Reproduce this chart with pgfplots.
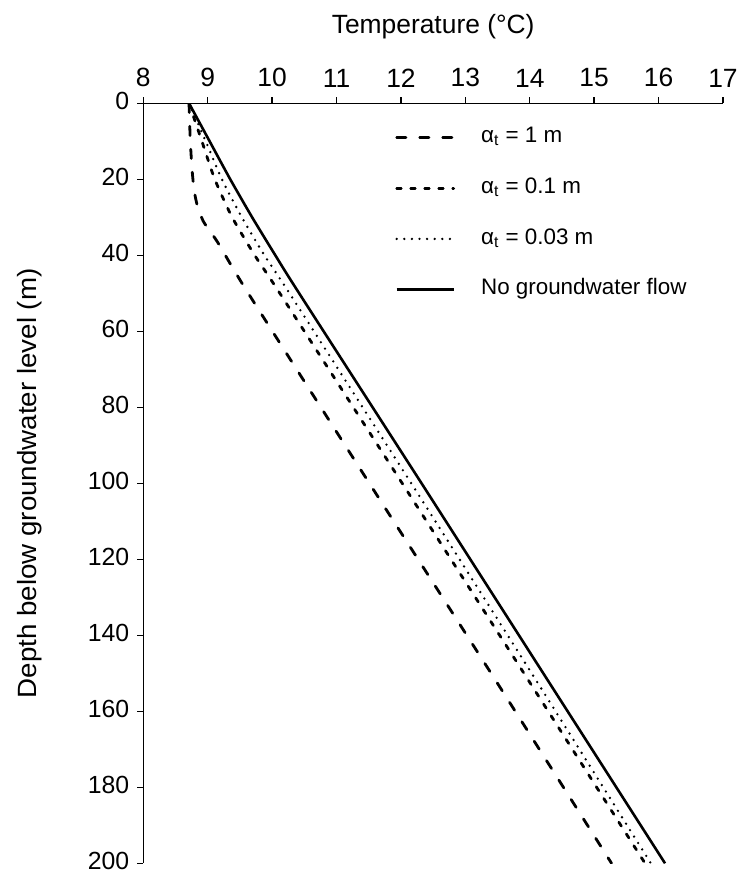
\documentclass[border=0pt]{standalone}
\usepackage{fontspec}
\setmainfont{Liberation Sans}
\usepackage{graphicx}
\usepackage{pgfplots}
\pgfplotsset{compat=1.18}

\begin{document}
\begin{tikzpicture}[font=\fontsize{13.2}{15.8}\selectfont]
\begin{axis}[
  scale only axis, width=289.85pt, height=380pt,
  xmin=8, xmax=17, ymin=0, ymax=200, y dir=reverse,
  axis x line*=top, axis y line*=left,
  axis line style={line width=0.7pt, black},
  xtick={8,...,17}, ytick={0,20,...,200},
  tick align=outside, major tick length=3pt,
  tick style={line width=0.7pt, black},
  minor tick num=0,
  /pgf/number format/assume math mode=true,
  xticklabel style={font=\fontsize{13.2}{15.8}\selectfont, yshift=1.5pt},
  yticklabel style={font=\fontsize{12.4}{14.8}\selectfont, yshift=1pt, xshift=-0.5pt},
  xlabel={Temperature (°C)},
  ylabel={\scalebox{1.05}[1]{Depth below groundwater level (m)}},
  xlabel style={at={(axis description cs:0.5,1.0925)}, anchor=base, inner sep=0pt, font=\fontsize{13.2}{15.8}\selectfont},
  ylabel style={at={(axis description cs:-0.1742,0.5)}, anchor=south, inner sep=0pt, font=\fontsize{13.2}{15.8}\selectfont},
  legend style={draw=none, fill=none, at={(axis description cs:0.434,0.855)}, anchor=west,
    inner sep=0pt, row sep=11pt, font=\fontsize{11.2}{13.4}\selectfont,
    nodes={inner sep=2pt, text height=7.8pt, text depth=2.6pt},
    /tikz/every odd column/.append style={column sep=11pt}},
  legend cell align=left,
  legend image code/.code={\draw[#1] (0pt,0pt) -- (28.5pt,0pt);},
]
\addplot[black, line width=1.4pt, line cap=round, dash pattern=on 4.6pt off 6.9pt, smooth, tension=0.4]
  coordinates {(8.71,0) (8.73,10) (8.76,18) (8.79,23) (8.84,27) (8.93,31) (9.05,34) (9.17,37) (9.63,50) (11.51,100) (13.40,150) (15.27,200)};
\addlegendentry{α\textsubscript{t} = 1 m}
\addplot[black, line width=1.4pt, line cap=round, dash pattern=on 2.3pt off 4.7pt, smooth, tension=0.4]
  coordinates {(8.71,0) (8.91,10) (9.11,20) (9.38,30) (9.73,40) (10.12,50) (12.02,100) (13.91,150) (15.79,200)};
\addlegendentry{α\textsubscript{t} = 0.1 m}
\addplot[black, line width=1.3pt, line cap=round, dash pattern=on 0pt off 3.8pt, smooth, tension=0.4]
  coordinates {(8.71,0) (8.97,10) (9.22,20) (9.53,30) (9.88,40) (10.27,50) (12.16,100) (14.03,150) (15.88,200)};
\addlegendentry{α\textsubscript{t} = 0.03 m}
\addplot[black, line width=1.3pt, smooth, tension=0.4]
  coordinates {(8.71,0) (9.03,10) (9.35,20) (9.69,30) (10.05,40) (10.42,50) (12.32,100) (14.21,150) (16.10,200)};
\addlegendentry{No groundwater flow}
\end{axis}
\pgfresetboundingbox
\path ([xshift=-71.65pt,yshift=-5.35pt]current axis.south west) rectangle ([xshift=8pt,yshift=51.65pt]current axis.north east);
\end{tikzpicture}
\end{document}
